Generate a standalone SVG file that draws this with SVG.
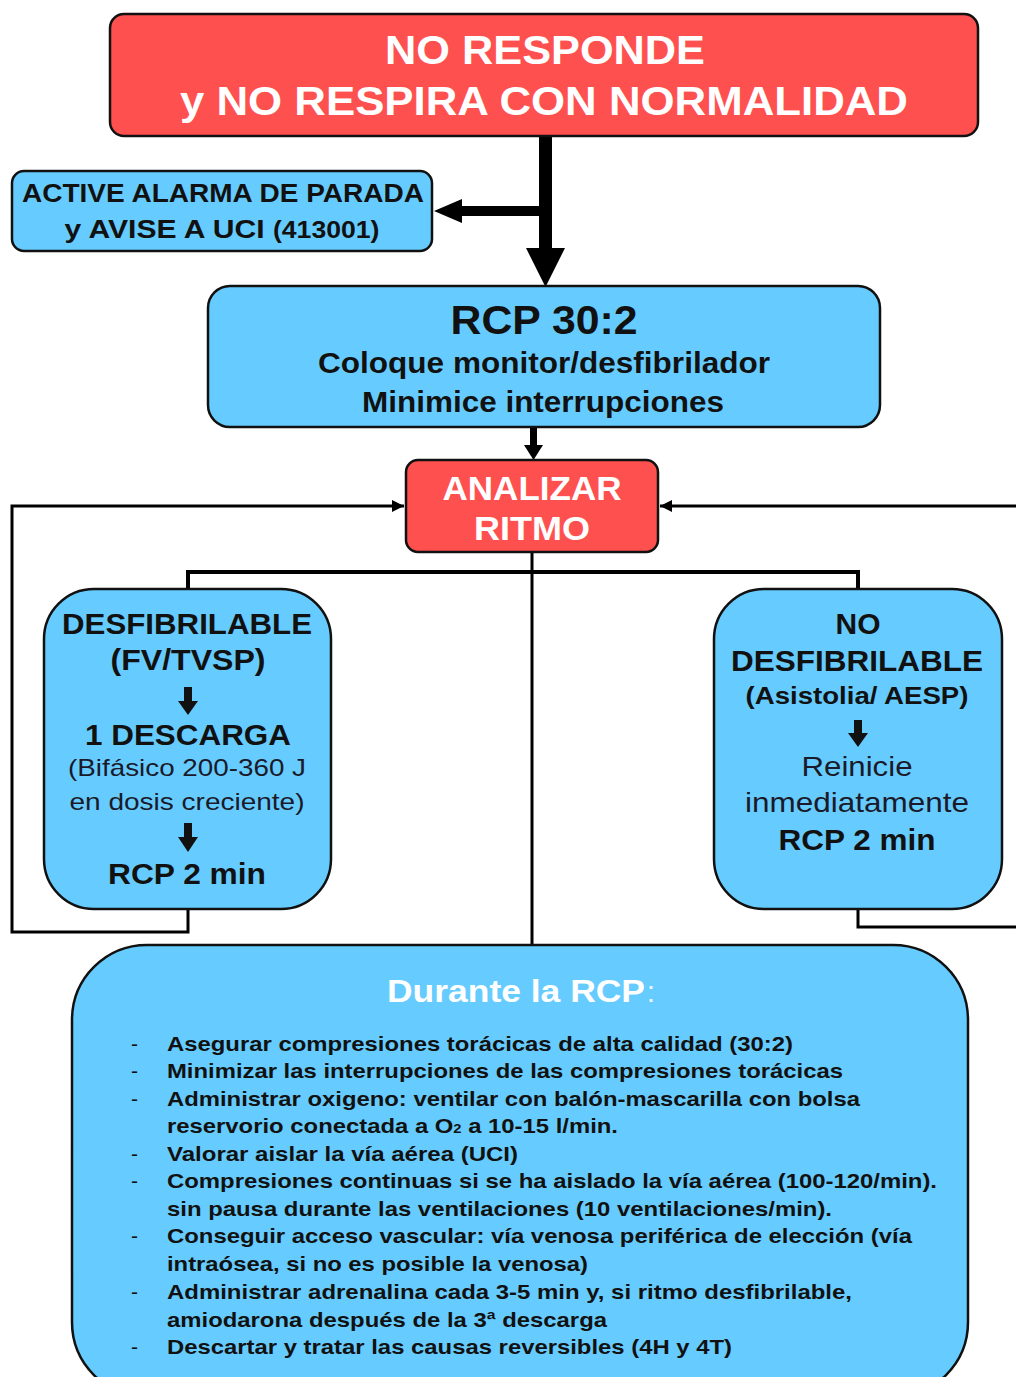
<svg xmlns="http://www.w3.org/2000/svg" width="1016" height="1377" viewBox="0 0 1016 1377">
<defs>
<style>
.red{fill:#FF5050;stroke:#111;stroke-width:2.5}
.blue{fill:#66CCFF;stroke:#111;stroke-width:2.5}
text{font-family:"Liberation Sans",Arial,sans-serif;text-anchor:middle}
.w{fill:#fff;font-weight:bold}
.b{fill:#111;font-weight:bold}
.r{fill:#1a1a2a;font-weight:normal}
.ln{fill:none;stroke:#000;stroke-width:3}
.li{fill:#111;font-weight:bold;font-size:21px;text-anchor:start}
.dash{fill:#111;font-size:21px;text-anchor:start}
</style>
<marker id="ah" viewBox="0 0 10 10" refX="10" refY="5" markerWidth="4" markerHeight="4" orient="auto" markerUnits="strokeWidth">
<path d="M0,0 L10,5 L0,10 Z" fill="#000"/>
</marker>
</defs>
<rect width="1016" height="1377" fill="#fff"/>

<g id="connectors">
<!-- thick main arrow -->
<rect x="539" y="136" width="13" height="114" fill="#000"/>
<polygon points="526,248 565,248 545.5,287" fill="#000"/>
<rect x="460" y="206" width="80" height="10" fill="#000"/>
<polygon points="434,211 462,199 462,223" fill="#000"/>
<!-- RCP to Analizar -->
<rect x="530" y="427" width="7" height="20" fill="#000"/>
<polygon points="524,445 543,445 533.5,460" fill="#000"/>
<!-- branch -->
<line x1="532" y1="552" x2="532" y2="946" stroke="#000" stroke-width="3"/>
<polyline points="188,590 188,572 858,572 858,590" fill="none" stroke="#000" stroke-width="4"/>
<!-- loops -->
<polyline class="ln" points="188,909 188,932 12,932 12,506 404,506" marker-end="url(#ah)"/>
<polyline class="ln" points="858,909 858,927 1020,927 1020,506 660,506" marker-end="url(#ah)"/>
</g>

<g id="node-no-responde">
<rect class="red" x="110" y="14" width="868" height="122" rx="14"/>
<text class="w" x="545" y="64" font-size="41" textLength="320" lengthAdjust="spacingAndGlyphs">NO RESPONDE</text>
<text class="w" x="544" y="115" font-size="41" textLength="728" lengthAdjust="spacingAndGlyphs">y NO RESPIRA CON NORMALIDAD</text>
</g>

<g id="node-alarma">
<rect class="blue" x="12" y="171" width="420" height="80" rx="12"/>
<text class="b" x="223" y="202" font-size="26" textLength="402" lengthAdjust="spacingAndGlyphs">ACTIVE ALARMA DE PARADA</text>
<text class="b" x="222" y="238" font-size="26" textLength="315" lengthAdjust="spacingAndGlyphs">y AVISE A UCI <tspan font-size="23">(413001)</tspan></text>
</g>

<g id="node-rcp">
<rect class="blue" x="208" y="286" width="672" height="141" rx="22"/>
<text class="b" x="544" y="334" font-size="40" textLength="187" lengthAdjust="spacingAndGlyphs">RCP 30:2</text>
<text class="b" x="544" y="373" font-size="29" textLength="452" lengthAdjust="spacingAndGlyphs">Coloque monitor/desfibrilador</text>
<text class="b" x="543" y="412" font-size="29" textLength="362" lengthAdjust="spacingAndGlyphs">Minimice interrupciones</text>
</g>

<g id="node-analizar">
<rect class="red" x="406" y="460" width="252" height="92" rx="12"/>
<text class="w" x="532" y="500" font-size="34" textLength="179" lengthAdjust="spacingAndGlyphs">ANALIZAR</text>
<text class="w" x="532" y="540" font-size="34" textLength="116" lengthAdjust="spacingAndGlyphs">RITMO</text>
</g>

<g id="node-desfibrilable">
<rect class="blue" x="44" y="589" width="287" height="320" rx="50"/>
<text class="b" x="187" y="634" font-size="29" textLength="250" lengthAdjust="spacingAndGlyphs">DESFIBRILABLE</text>
<text class="b" x="188" y="670" font-size="29" textLength="155" lengthAdjust="spacingAndGlyphs">(FV/TVSP)</text>
<rect x="184" y="687" width="8" height="16" fill="#111"/>
<polygon points="178,701 198,701 188,715" fill="#111"/>
<text class="b" x="188" y="745" font-size="29" textLength="206" lengthAdjust="spacingAndGlyphs">1 DESCARGA</text>
<text class="r" x="187" y="776" font-size="24" textLength="238" lengthAdjust="spacingAndGlyphs">(Bifásico 200-360 J</text>
<text class="r" x="187" y="810" font-size="24" textLength="235" lengthAdjust="spacingAndGlyphs">en dosis creciente)</text>
<rect x="184" y="823" width="8" height="16" fill="#111"/>
<polygon points="178,837 198,837 188,852" fill="#111"/>
<text class="b" x="187" y="884" font-size="29" textLength="158" lengthAdjust="spacingAndGlyphs">RCP 2 min</text>
</g>

<g id="node-no-desfibrilable">
<rect class="blue" x="714" y="589" width="288" height="320" rx="50"/>
<text class="b" x="858" y="634" font-size="29" textLength="45" lengthAdjust="spacingAndGlyphs">NO</text>
<text class="b" x="857" y="671" font-size="29" textLength="252" lengthAdjust="spacingAndGlyphs">DESFIBRILABLE</text>
<text class="b" x="857" y="704" font-size="24" textLength="223" lengthAdjust="spacingAndGlyphs">(Asistolia/ AESP)</text>
<rect x="854" y="720" width="8" height="15" fill="#111"/>
<polygon points="848,733 868,733 858,747" fill="#111"/>
<text class="r" x="857" y="776" font-size="28" textLength="111" lengthAdjust="spacingAndGlyphs">Reinicie</text>
<text class="r" x="857" y="812" font-size="28" textLength="224" lengthAdjust="spacingAndGlyphs">inmediatamente</text>
<text class="b" x="857" y="850" font-size="29" textLength="157" lengthAdjust="spacingAndGlyphs">RCP 2 min</text>
</g>

<g id="node-durante">
<rect class="blue" x="72" y="945" width="896" height="452" rx="75"/>
<text class="w" x="516" y="1002" font-size="32" textLength="258" lengthAdjust="spacingAndGlyphs">Durante la RCP</text>
<text x="651" y="1002" font-size="30" fill="#e8f4ff">:</text>
<g>
<text class="dash" x="131" y="1051">-</text>
<text class="dash" x="131" y="1078">-</text>
<text class="dash" x="131" y="1106">-</text>
<text class="dash" x="131" y="1161">-</text>
<text class="dash" x="131" y="1188">-</text>
<text class="dash" x="131" y="1243">-</text>
<text class="dash" x="131" y="1299">-</text>
<text class="dash" x="131" y="1354">-</text>
</g>
<text class="li" x="167" y="1051" textLength="626" lengthAdjust="spacingAndGlyphs">Asegurar compresiones torácicas de alta calidad (30:2)</text>
<text class="li" x="167" y="1078" textLength="676" lengthAdjust="spacingAndGlyphs">Minimizar las interrupciones de las compresiones torácicas</text>
<text class="li" x="167" y="1106" textLength="693" lengthAdjust="spacingAndGlyphs">Administrar oxigeno: ventilar con balón-mascarilla con bolsa</text>
<text class="li" x="167" y="1133" textLength="451" lengthAdjust="spacingAndGlyphs">reservorio conectada a O<tspan font-size="13">2</tspan> a 10-15 l/min.</text>
<text class="li" x="167" y="1161" textLength="351" lengthAdjust="spacingAndGlyphs">Valorar aislar la vía aérea (UCI)</text>
<text class="li" x="167" y="1188" textLength="770" lengthAdjust="spacingAndGlyphs">Compresiones continuas si se ha aislado la vía aérea (100-120/min).</text>
<text class="li" x="167" y="1216" textLength="665" lengthAdjust="spacingAndGlyphs">sin pausa durante las ventilaciones (10 ventilaciones/min).</text>
<text class="li" x="167" y="1243" textLength="745" lengthAdjust="spacingAndGlyphs">Conseguir acceso vascular: vía venosa periférica de elección (vía</text>
<text class="li" x="167" y="1271" textLength="421" lengthAdjust="spacingAndGlyphs">intraósea, si no es posible la venosa)</text>
<text class="li" x="167" y="1299" textLength="685" lengthAdjust="spacingAndGlyphs">Administrar adrenalina cada 3-5 min y, si ritmo desfibrilable,</text>
<text class="li" x="167" y="1327" textLength="440" lengthAdjust="spacingAndGlyphs">amiodarona después de la 3ª descarga</text>
<text class="li" x="167" y="1354" textLength="565" lengthAdjust="spacingAndGlyphs">Descartar y tratar las causas reversibles (4H y 4T)</text>
</g>
</svg>
